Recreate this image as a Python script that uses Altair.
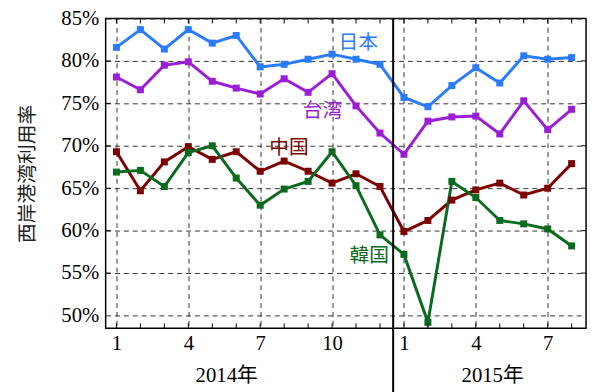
import altair as alt
import pandas as pd

months = list(range(20))  # 0 = 2014-01 ... 19 = 2015-08
japan = [81.6, 83.7, 81.4, 83.7, 82.1, 83.0, 79.3, 79.6, 80.2, 80.8, 80.2, 79.6,
         75.7, 74.6, 77.1, 79.2, 77.4, 80.6, 80.2, 80.4]
taiwan = [78.1, 76.6, 79.5, 79.9, 77.6, 76.8, 76.1, 77.9, 76.3, 78.5, 74.7, 71.5,
          69.0, 72.9, 73.4, 73.5, 71.4, 75.3, 71.9, 74.3]
china = [69.3, 64.7, 68.1, 69.9, 68.4, 69.3, 67.0, 68.2, 67.0, 65.6, 66.7, 65.2,
         59.9, 61.2, 63.6, 64.8, 65.6, 64.2, 65.0, 67.9]
korea = [66.9, 67.1, 65.2, 69.2, 70.0, 66.2, 63.0, 64.9, 65.8, 69.3, 65.3, 59.5,
         57.2, 49.2, 65.8, 63.9, 61.2, 60.8, 60.2, 58.2]

series_names = ["日本", "台湾", "中国", "韓国"]
series_colors = ["#2b7bff", "#9a1ed6", "#7d0000", "#0a6a1e"]
label_x = [10.09, 8.6, 7.2, 10.55]
label_y = [82.1, 74.1, 69.7, 57.0]

x_tick_values = [0, 3, 6, 9, 12, 15, 18]
y_tick_values = [50, 55, 60, 65, 70, 75, 80, 85]
year_names = ["2014年", "2015年"]
year_x = [4.6, 15.7]
separator_x = 11.55

rows = []
for name, vals in zip(series_names, [japan, taiwan, china, korea]):
    for m, v in zip(months, vals):
        rows.append({"month": m, "value": v, "series": name})
df = pd.DataFrame(rows)
labels_df = pd.DataFrame({"series": series_names, "x": label_x, "y": label_y})
years_df = pd.DataFrame({"name": year_names, "x": year_x})
mticks = pd.DataFrame({"month": months})
yticks = pd.DataFrame({"v": y_tick_values[1:-1]})
sep_df = pd.DataFrame({"x": [separator_x]})

W, H = 487, 314

xscale = alt.Scale(domain=[-0.45, 19.6], nice=False, zero=False)
yscale = alt.Scale(domain=[48.5, 85], nice=False, zero=False)
color = alt.Color("series:N", scale=alt.Scale(domain=series_names, range=series_colors), legend=None)

X_AX = alt.Axis(values=x_tick_values, labelExpr="(datum.value % 12) + 1", title=None,
                grid=True, gridDash=[5, 4], gridColor="#333", gridWidth=1,
                ticks=False, domain=False, labelFont="Liberation Serif", labelFontSize=21,
                labelColor="black", labelPadding=5)
Y_AX = alt.Axis(values=y_tick_values, labelExpr="datum.value + '%'", title="西岸港湾利用率",
                grid=True, gridDash=[5, 4], gridColor="#333", gridWidth=1,
                ticks=False, domain=False, labelFont="Liberation Serif", labelFontSize=21,
                labelColor="black", labelPadding=7, titleFont="Noto Sans CJK JP",
                titleFontSize=20, titleFontWeight="normal", titleColor="#222", titlePadding=24)

base = alt.Chart(df)
lines = base.mark_line(strokeWidth=3).encode(
    x=alt.X("month:Q", scale=xscale, axis=X_AX),
    y=alt.Y("value:Q", scale=yscale, axis=Y_AX),
    color=color, detail="series:N")
points = base.mark_point(shape="square", filled=True, size=50, opacity=1).encode(
    x=alt.X("month:Q", scale=xscale), y=alt.Y("value:Q", scale=yscale), color=color)

texts = alt.Chart(labels_df).mark_text(font="Noto Sans CJK JP", fontSize=20).encode(
    x=alt.X("x:Q", scale=xscale), y=alt.Y("y:Q", scale=yscale),
    text="series:N", color=color)

tick_top = alt.Chart(mticks).mark_rule(color="black", strokeWidth=1).encode(
    x=alt.X("month:Q", scale=xscale), y=alt.value(0), y2=alt.value(5))
tick_bot = alt.Chart(mticks).mark_rule(color="black", strokeWidth=1).encode(
    x=alt.X("month:Q", scale=xscale), y=alt.value(H), y2=alt.value(H - 5))
tick_left = alt.Chart(yticks).mark_rule(color="black", strokeWidth=1).encode(
    y=alt.Y("v:Q", scale=yscale), x=alt.value(0), x2=alt.value(5))
tick_right = alt.Chart(yticks).mark_rule(color="black", strokeWidth=1).encode(
    y=alt.Y("v:Q", scale=yscale), x=alt.value(W), x2=alt.value(W - 5))

sep = alt.Chart(sep_df).mark_rule(color="black", strokeWidth=2).encode(
    x=alt.X("x:Q", scale=xscale), y=alt.value(0), y2=alt.value(380))

years = alt.Chart(years_df).mark_text(font="Liberation Serif, Noto Sans CJK JP", fontSize=21,
                                       color="black").encode(
    x=alt.X("x:Q", scale=xscale), y=alt.value(363), text="name:N")

chart = alt.layer(lines, points, texts, tick_top, tick_bot, tick_left, tick_right, sep, years).properties(
    width=W, height=H,
    autosize=alt.AutoSizeParams(type="none"),
    padding={"left": 99, "top": 8, "right": 2, "bottom": 62},
).configure_view(stroke="black", strokeWidth=1.5)

chart.save("out.html", embed_options={"renderer": "svg", "actions": False})
